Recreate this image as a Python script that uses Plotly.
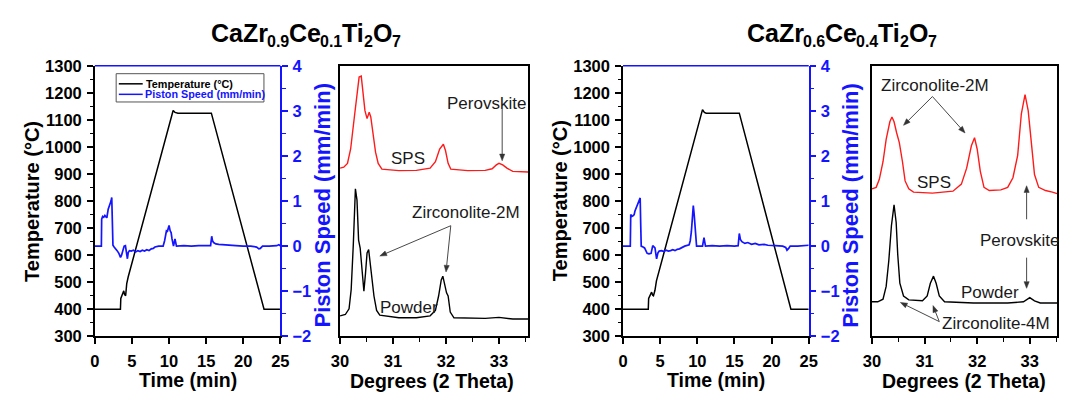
import math
import plotly.graph_objects as go

FONT = "Liberation Sans, Arial, Helvetica, sans-serif"
W, H = 1072, 405

# ---------------- data ----------------
# Panel 1 : CaZr0.9Ce0.1Ti2O7 SPS profile
temp1_time = [0, 3.45, 3.5, 3.7, 3.9, 4.0, 4.15, 4.3, 4.5, 10.55, 10.8, 11.2, 15.7, 22.8, 25]
temp1_val = [400, 400, 440, 455, 468, 455, 450, 495, 520, 1135, 1128, 1125, 1125, 400, 400]

speed1_time = [0, 0.88, 0.92, 1.05, 1.2, 1.35, 1.5, 1.62, 1.8, 1.95, 2.05, 2.18, 2.28, 2.36, 2.44,
               2.6, 2.8, 3.0, 3.24, 3.46, 3.6, 3.81, 3.95, 4.12, 4.25, 4.39, 4.5, 4.66, 4.9, 5.2,
               5.5, 5.8, 6.1, 6.4, 6.7, 7.0, 7.3, 7.6, 7.87, 8.1, 8.6, 9.2, 9.4, 9.55, 9.65, 9.78,
               9.87, 10.0, 10.15, 10.28, 10.4, 10.6, 10.8, 11.0, 12.0, 13.0, 14.0, 15.0, 15.6,
               15.75, 15.85, 16.0, 16.3, 16.7, 17.2, 18.0, 19.0, 20.0, 21.0, 21.8, 22.1, 22.3,
               22.6, 23.5, 24.5, 24.8, 25]
speed1_val = [0, 0, 0.6, 0.66, 0.64, 0.68, 0.65, 0.63, 0.82, 0.88, 0.95, 1.0, 1.08, 0.7, 0.02,
              -0.02, -0.05, -0.1, -0.16, -0.25, -0.2, -0.05, 0.0, 0.01, -0.12, -0.28, -0.14, -0.1, -0.11, -0.09,
              -0.13, -0.1, -0.12, -0.09, -0.11, -0.08, -0.1, -0.06, -0.05, -0.02, 0, 0, 0.12, 0.3, 0.34, 0.33,
              0.37, 0.46, 0.34, 0.3, 0.16, 0.0, 0.16, 0.0, 0.01, 0, 0.01, 0, 0.01,
              0.22, 0.12, 0.08, 0.05, 0.04, 0.03, 0.02, 0.01, 0, 0, -0.02, -0.06, -0.05,
              0, 0, 0.01, 0.03, 0.01]

xrd1_sps_2theta = [30.00, 30.07, 30.14, 30.20, 30.27, 30.32, 30.36, 30.40, 30.43, 30.47, 30.51, 30.55,
                   30.58, 30.62, 30.67, 30.72, 30.79, 31.11, 31.44, 31.70, 31.80, 31.88, 31.95, 31.99,
                   32.04, 32.09, 32.41, 32.74, 32.87, 32.95, 33.00, 33.07, 33.15, 33.26, 33.55]
xrd1_sps_int = [175.3, 176.3, 180.3, 195.3, 228.7, 255.3, 270.3, 271.3, 255.3, 235.3, 227, 233.7,
                228.7, 212, 192, 180.3, 174.3, 172.7, 173, 175.3, 182, 195.3, 200.3, 193.7,
                180.3, 174.3, 172.7, 173, 174.7, 178.7, 180.3, 178.7, 175.3, 172, 171.3]

xrd1_pow_2theta = [30.00, 30.10, 30.17, 30.21, 30.25, 30.29, 30.32, 30.35, 30.38, 30.42, 30.45, 30.48,
                   30.51, 30.54, 30.57, 30.61, 30.64, 30.69, 30.75, 31.11, 31.44, 31.70, 31.80, 31.86,
                   31.91, 31.94, 31.97, 32.01, 32.04, 32.08, 32.15, 32.74, 33.00, 33.26, 33.55]
xrd1_pow_int = [21.3, 22.7, 28.7, 48.7, 95.3, 153.7, 142, 100.3, 92, 62, 47, 65.3,
                87, 90.3, 75.3, 62, 42, 27, 22, 19.3, 19.3, 21.3, 27, 42,
                58.7, 62.7, 55.3, 45.3, 42, 25.3, 19.3, 18.7, 19.7, 18, 18]

# Panel 2 : CaZr0.6Ce0.4Ti2O7 SPS profile
temp2_time = [0, 3.4, 3.45, 3.65, 3.85, 4.0, 4.1, 4.3, 4.5, 10.7, 10.95, 11.2, 15.65, 22.6, 25]
temp2_val = [400, 400, 440, 455, 463, 452, 450, 470, 505, 1138, 1128, 1125, 1125, 400, 400]

speed2_time = [0, 0.98, 1.04, 1.2, 1.39, 1.5, 1.61, 1.8, 1.96, 2.15, 2.31, 2.38, 2.45, 2.7, 2.9,
               3.25, 3.5, 3.78, 4.0, 4.3, 4.52, 4.7, 4.87, 5.2, 5.5, 5.8, 6.1, 6.4, 6.7, 7.0,
               7.3, 7.6, 7.9, 8.3, 8.9, 9.05, 9.2, 9.35, 9.46, 9.58, 9.68, 9.9, 10.7, 10.9,
               11.1, 12.0, 13.0, 14.0, 15.0, 15.5, 15.65, 15.8, 16.0, 16.4, 16.8, 17.3, 17.8,
               18.3, 19.0, 19.5, 20.5, 21.5, 21.9, 22.07, 22.3, 22.5, 23.5, 24.5, 25]
speed2_val = [0, 0, 0.7, 0.66, 0.68, 0.7, 0.78, 0.85, 0.93, 1.0, 1.07, 0.5, 0.0, -0.02, -0.04,
              -0.16, -0.17, -0.16, 0.01, -0.04, -0.28, -0.15, -0.11, -0.1, -0.12, -0.09, -0.11, -0.1, -0.08, -0.1,
              -0.07, -0.06, -0.03, 0, 0.03, 0.12, 0.32, 0.6, 0.9, 0.7, 0.53, 0.0, 0.0, 0.19,
              0.0, 0.01, 0, 0.01, 0, 0.01, 0.28, 0.15, 0.1, 0.06, 0.08, 0.04, 0.06,
              0.03, 0.04, 0.02, 0.01, 0, -0.03, -0.09, -0.05, 0, 0, 0.01, 0.02]

xrd2_sps_2theta = [30.00, 30.08, 30.14, 30.21, 30.27, 30.34, 30.38, 30.42, 30.47, 30.52, 30.58, 30.63,
                   30.70, 30.79, 31.15, 31.54, 31.70, 31.80, 31.89, 31.95, 32.00, 32.06, 32.13, 32.23,
                   32.45, 32.58, 32.68, 32.77, 32.84, 32.91, 32.97, 33.03, 33.09, 33.17, 33.30, 33.43, 33.52]
xrd2_sps_int = [153.7, 155.3, 163.7, 182, 205.3, 223.7, 228.7, 223.7, 212, 202, 182, 162,
                153.7, 150.3, 149.3, 151.3, 158.7, 175.3, 198.7, 207, 195.3, 172, 155.3, 152,
                152.7, 155.3, 165.3, 188.7, 232, 252, 235.3, 202, 168.7, 155.3, 152, 150.3, 148.7]

xrd2_pow_2theta = [30.00, 30.11, 30.21, 30.27, 30.32, 30.37, 30.42, 30.46, 30.49, 30.53, 30.60, 30.70,
                   30.96, 31.05, 31.11, 31.17, 31.22, 31.28, 31.38, 31.93, 32.58, 32.88, 33.00, 33.09,
                   33.20, 33.52]
xrd2_pow_int = [36, 36, 38.7, 52, 78.7, 115.3, 137, 118.7, 85.3, 55.3, 42, 38,
                37, 42, 55.3, 62.7, 55.3, 42, 36, 34.7, 34.7, 36, 40.3, 37,
                34.7, 34.7]

# chemical formulas of the two panels: (text, is_subscript)
formula1 = [("CaZr", False), ("0.9", True), ("Ce", False), ("0.1", True), ("Ti", False), ("2", True),
            ("O", False), ("7", True)]
formula2 = [("CaZr", False), ("0.6", True), ("Ce", False), ("0.4", True), ("Ti", False), ("2", True),
            ("O", False), ("7", True)]

temp_ticks = [300, 400, 500, 600, 700, 800, 900, 1000, 1100, 1200, 1300]
speed_ticks = [-2, -1, 0, 1, 2, 3, 4]
time_ticks = [0, 5, 10, 15, 20, 25]
theta_ticks = [30, 31, 32, 33]

# ---------------- geometry (pixels -> paper) ----------------
def fx(p):
    return p / W

def fy(p):
    return 1 - p / H

Y_TOP, Y_BOT = 59.5, 342.5
Y_DOM = [fy(Y_BOT), fy(Y_TOP)]
X1_DOM = [fx(87.3), fx(276.0)]
XR1_L, XR1_R = 336.7, 528.0
XR2_L, XR2_R = 877.7, 1066.0
XR1_RANGE = [30, 33.55]
XR2_RANGE = [30, 30 + (XR2_R - XR2_L) / 53.5]
XR1_DOM = [fx(XR1_L), fx(XR1_R)]
X2_DOM = [fx(624.5), fx(813.4)]
XR2_DOM = [fx(XR2_L), fx(XR2_R)]
INT_RANGE = [0, 282]

BLUE = "#1414ff"
RED = "#ff1a1a"

fig = go.Figure()

fig.add_trace(go.Scatter(x=temp1_time, y=temp1_val, mode="lines", line=dict(color="black", width=1.5),
                         xaxis="x", yaxis="y", name="Temperature (°C)", showlegend=False))
fig.add_trace(go.Scatter(x=speed1_time, y=speed1_val, mode="lines", line=dict(color=BLUE, width=1.7),
                         xaxis="x", yaxis="y2", name="Piston Speed (mm/min)", showlegend=False))
fig.add_trace(go.Scatter(x=xrd1_sps_2theta, y=xrd1_sps_int, mode="lines", line=dict(color=RED, width=1.4),
                         xaxis="x2", yaxis="y3", name="SPS", showlegend=False))
fig.add_trace(go.Scatter(x=xrd1_pow_2theta, y=xrd1_pow_int, mode="lines", line=dict(color="black", width=1.4),
                         xaxis="x2", yaxis="y3", name="Powder", showlegend=False))

fig.add_trace(go.Scatter(x=temp2_time, y=temp2_val, mode="lines", line=dict(color="black", width=1.5),
                         xaxis="x3", yaxis="y4", name="Temperature (°C)", showlegend=False))
fig.add_trace(go.Scatter(x=speed2_time, y=speed2_val, mode="lines", line=dict(color=BLUE, width=1.7),
                         xaxis="x3", yaxis="y5", name="Piston Speed (mm/min)", showlegend=False))
fig.add_trace(go.Scatter(x=xrd2_sps_2theta, y=xrd2_sps_int, mode="lines", line=dict(color=RED, width=1.4),
                         xaxis="x4", yaxis="y6", name="SPS", showlegend=False))
fig.add_trace(go.Scatter(x=xrd2_pow_2theta, y=xrd2_pow_int, mode="lines", line=dict(color="black", width=1.4),
                         xaxis="x4", yaxis="y6", name="Powder", showlegend=False))

tickfont_k = dict(family=FONT, size=16.5, color="black", weight="bold")
tickfont_b = dict(family=FONT, size=16.5, color=BLUE, weight="bold")

def time_axis(dom, anchor):
    return dict(domain=dom, anchor=anchor, range=[0, 25], tickvals=time_ticks, ticks="outside",
                ticklen=6, tickwidth=1.5, tickcolor="black", showline=True, linecolor="black",
                linewidth=1.5, showgrid=False, zeroline=False, tickfont=tickfont_k, ticklabelstandoff=3)

def temp_axis(anchor):
    return dict(domain=Y_DOM, anchor=anchor, range=[300, 1300], tickvals=temp_ticks, ticks="outside",
                ticklen=6, tickwidth=1.5, tickcolor="black", showline=True, linecolor="black",
                linewidth=1.5, showgrid=False, zeroline=False, tickfont=tickfont_k, ticklabelstandoff=2,
                minor=dict(dtick=50, ticks="outside", ticklen=3.5, tickwidth=1.2, tickcolor="black"))

def speed_axis(anchor, over):
    return dict(domain=Y_DOM, anchor=anchor, overlaying=over, side="right", range=[-2, 4],
                tickvals=speed_ticks, ticks="outside", ticklen=6, tickwidth=1.5, tickcolor=BLUE,
                showline=True, linecolor=BLUE, linewidth=1.5, showgrid=False, zeroline=False,
                tickfont=tickfont_b, ticklabelstandoff=1,
                minor=dict(dtick=0.5, ticks="outside", ticklen=3.5, tickwidth=1.2, tickcolor=BLUE))

def theta_axis(dom, anchor, rng):
    return dict(domain=dom, anchor=anchor, range=rng, tickvals=theta_ticks, ticks="outside",
                ticklen=6, tickwidth=1.5, tickcolor="black", showline=True, mirror=True,
                linecolor="black", linewidth=1.5, showgrid=False, zeroline=False, tickfont=tickfont_k,
                ticklabelstandoff=3,
                minor=dict(dtick=0.5, ticks="outside", ticklen=3.5, tickwidth=1.2, tickcolor="black"))

def int_axis(anchor):
    return dict(domain=Y_DOM, anchor=anchor, range=INT_RANGE, showticklabels=False, ticks="",
                showline=True, mirror=True, linecolor="black", linewidth=1.5, showgrid=False,
                zeroline=False)

fig.update_layout(
    autosize=True,
    margin=dict(l=0, r=0, t=0, b=0, pad=0),
    paper_bgcolor="white", plot_bgcolor="white",
    font=dict(family=FONT, color="black"),
    xaxis=time_axis(X1_DOM, "y"),
    yaxis=temp_axis("x"),
    yaxis2=speed_axis("x", "y"),
    xaxis2=theta_axis(XR1_DOM, "y3", XR1_RANGE),
    yaxis3=int_axis("x2"),
    xaxis3=time_axis(X2_DOM, "y4"),
    yaxis4=temp_axis("x3"),
    yaxis5=speed_axis("x3", "y4"),
    xaxis4=theta_axis(XR2_DOM, "y6", XR2_RANGE),
    yaxis6=int_axis("x4"),
)

shapes = []
for xr, yr in (("x", "y"), ("x3", "y4")):
    shapes.append(dict(type="line", xref=xr + " domain", yref=yr + " domain", x0=0, x1=1, y0=1, y1=1,
                       line=dict(color=BLUE, width=1.5)))
# legend box (panel 1)
shapes.append(dict(type="rect", xref="paper", yref="paper", x0=fx(109), x1=fx(259.3), y0=fy(97.3), y1=fy(67.7),
                   line=dict(color="#555555", width=1), fillcolor="white", layer="above"))
shapes.append(dict(type="line", xref="paper", yref="paper", x0=fx(111.7), x1=fx(136), y0=fy(78.3), y1=fy(78.3),
                   line=dict(color="black", width=1.5)))
shapes.append(dict(type="line", xref="paper", yref="paper", x0=fx(111.7), x1=fx(136), y0=fy(89.3), y1=fy(89.3),
                   line=dict(color=BLUE, width=1.5)))

SX1 = (XR1_R - XR1_L) / (XR1_RANGE[1] - XR1_RANGE[0])
SX2 = (XR2_R - XR2_L) / (XR2_RANGE[1] - XR2_RANGE[0])
SY = (Y_BOT - Y_TOP) / (INT_RANGE[1] - INT_RANGE[0])

def arrow(xt, yt, xh, yh, xr, yr, sx):
    dx, dy = (xh - xt) * sx, (yh - yt) * SY
    L = math.hypot(dx, dy)
    ux, uy = dx / L, dy / L
    hl, hw = 7.0, 2.6
    bx, by = xh - ux * hl / sx, yh - uy * hl / SY
    nx, ny = -uy, ux
    lx, ly = bx + nx * hw / sx, by + ny * hw / SY
    rx, ry = bx - nx * hw / sx, by - ny * hw / SY
    shapes.append(dict(type="line", xref=xr, yref=yr, x0=xt, y0=yt, x1=bx, y1=by,
                       line=dict(color="#333333", width=0.9)))
    shapes.append(dict(type="path", xref=xr, yref=yr,
                       path=f"M {xh},{yh} L {lx},{ly} L {rx},{ry} Z",
                       fillcolor="#333333", line=dict(color="#333333", width=0.5)))

arrow(33.06, 237, 33.06, 183, "x2", "y3", SX1)
arrow(32.09, 115.3, 30.75, 83.7, "x2", "y3", SX1)
arrow(32.09, 115.3, 32.0, 67, "x2", "y3", SX1)
arrow(31.15, 250, 30.6, 220, "x4", "y6", SX2)
arrow(31.15, 250, 31.77, 212, "x4", "y6", SX2)
arrow(32.94, 122, 32.94, 157, "x4", "y6", SX2)
arrow(32.94, 82, 32.94, 50, "x4", "y6", SX2)
arrow(31.28, 15.3, 30.54, 35.3, "x4", "y6", SX2)
arrow(31.28, 15.3, 31.16, 32, "x4", "y6", SX2)

fig.update_layout(shapes=shapes)

ann = []

def txt(x, y, s, size=17, color="#1a1a1a", bold=False, angle=0, xref="paper", yref="paper", xanchor="center"):
    f = dict(family=FONT, size=size, color=color)
    if bold:
        f["weight"] = "bold"
    ann.append(dict(x=x, y=y, xref=xref, yref=yref, text=s, showarrow=False, font=f, textangle=angle,
                    xanchor=xanchor, yanchor="middle"))

# bold Liberation Sans advance widths (per 1000 em) for laying out the formulas
ADV = {"C": 722, "a": 556, "Z": 611, "r": 389, "e": 556, "T": 611, "i": 278, "O": 778, ".": 278}
for d in "0123456789":
    ADV[d] = 556

def text_w(s, size):
    return sum(ADV[c] for c in s) * size / 1000.0

def formula(parts, center_x, baseline, main=25, sub=16, sub_drop=6):
    total = sum(text_w(s, sub if is_sub else main) for s, is_sub in parts)
    x = center_x - total / 2
    pad = 2  # annotation border + pad
    for s, is_sub in parts:
        size = sub if is_sub else main
        base = baseline + (sub_drop if is_sub else 0)
        # middle of the text box sits (ascent - descent)/2 above the baseline
        mid = base - 0.3465 * size
        txt(fx(x - pad), fy(mid), s, size=size, color="black", bold=True, xanchor="left")
        x += text_w(s, size)

formula(formula1, 301.8, 33.3)
formula(formula2, 847.0, 33.3)

for off in (0, 537.2):
    txt(fx(23.3 + off), fy(201), "Temperature (°C)", size=20, color="black", bold=True, angle=-90)
    txt(fx(319 + off), fy(206), "Piston Speed (mm/min)", size=22, color=BLUE, bold=True, angle=-90)
    txt(fx(181.7 + off), fy(388), "Time (min)", size=19.5, color="black", bold=True)
txt(fx(430.7), fy(389), "Degrees (2 Theta)", size=19.5, color="black", bold=True)
txt(fx(971.7), fy(389), "Degrees (2 Theta)", size=19.5, color="black", bold=True)

txt(fx(137.3), fy(78.3), "Temperature (°C)", size=10.8, color="black", bold=True, xanchor="left")
txt(fx(136.7), fy(89.3), "Piston Speed (mm/min)", size=10.8, color=BLUE, bold=True, xanchor="left")

txt(31.28, 185, "SPS", xref="x2", yref="y3")
txt(32.77, 243, "Perovskite", xref="x2", yref="y3")
txt(32.38, 129.3, "Zirconolite-2M", xref="x2", yref="y3")
txt(31.31, 30.3, "Powder", xref="x2", yref="y3")

txt(31.2, 262, "Zirconolite-2M", xref="x4", yref="y6")
txt(31.18, 160.3, "SPS", xref="x4", yref="y6")
txt(32.81, 100.3, "Perovskite", xref="x4", yref="y6")
txt(32.24, 45.3, "Powder", xref="x4", yref="y6")
txt(32.35, 13.7, "Zirconolite-4M", xref="x4", yref="y6")

fig.update_layout(annotations=ann)

fig.write_html("out.html", config={"displayModeBar": False},
               default_width="1072px",
               default_height="405px;position:absolute;top:0px;left:0px")
